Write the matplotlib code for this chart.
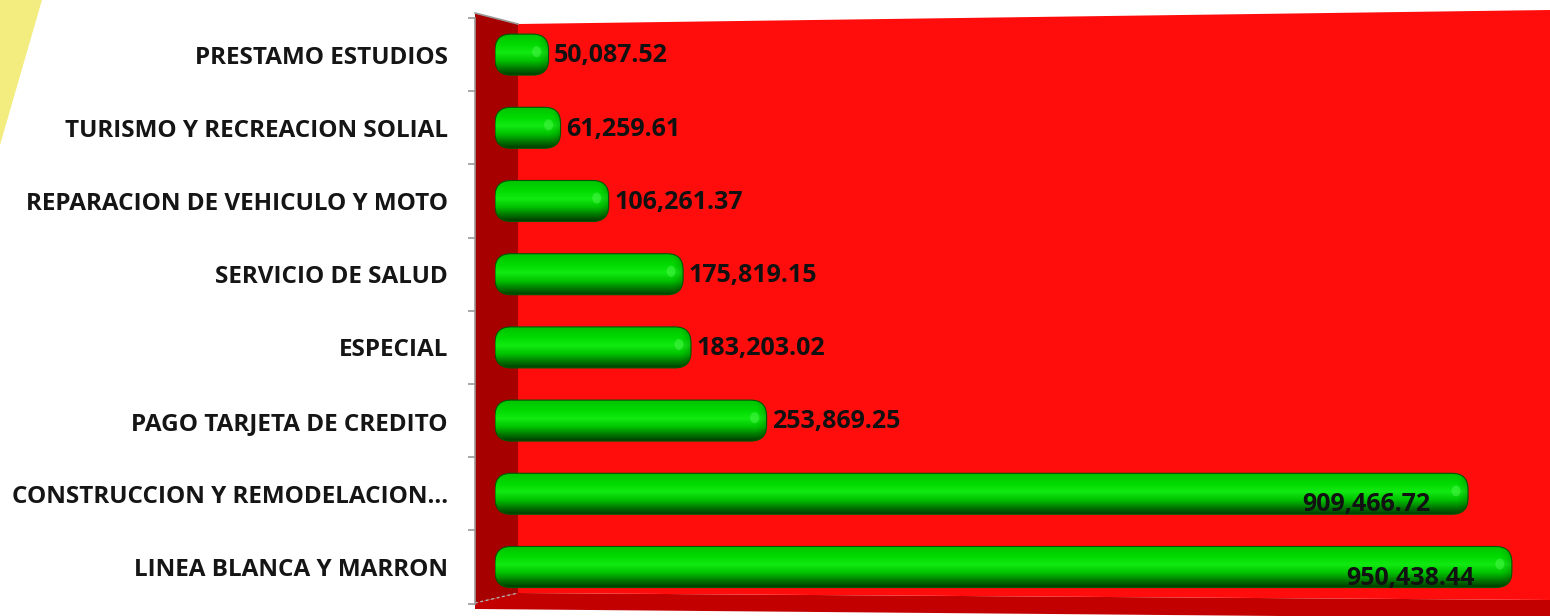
import matplotlib
matplotlib.use("Agg")
import matplotlib.pyplot as plt
import numpy as np
from matplotlib.patches import FancyBboxPatch, Polygon, Ellipse
from matplotlib.colors import LinearSegmentedColormap

# Data (bottom to top)
categories = [
    "LINEA BLANCA Y MARRON",
    "CONSTRUCCION Y REMODELACION\u2026",
    "PAGO TARJETA DE CREDITO",
    "ESPECIAL",
    "SERVICIO DE SALUD",
    "REPARACION DE VEHICULO Y MOTO",
    "TURISMO Y RECREACION SOLIAL",
    "PRESTAMO ESTUDIOS",
]
values = [950438.44, 909466.72, 253869.25, 183203.02, 175819.15, 106261.37, 61259.61, 50087.52]
value_labels = ["950,438.44", "909,466.72", "253,869.25", "183,203.02",
                "175,819.15", "106,261.37", "61,259.61", "50,087.52"]

W, H = 1550, 616
fig = plt.figure(figsize=(W / 100, H / 100), dpi=100)
fig.patch.set_facecolor("white")

# background "3D" walls in pixel space
bg = fig.add_axes([0, 0, 1, 1])
bg.set_xlim(0, W)
bg.set_ylim(H, 0)
bg.axis("off")
bg.add_patch(Polygon([(0, 0), (42, 0), (0, 145)], closed=True, fc="#f3ed80", ec="none"))
bg.add_patch(Polygon([(475, 603), (518, 593), (1550, 600), (1550, 616), (1280, 616), (475, 609)],
                     closed=True, fc="#c20000", ec="none"))
bg.add_patch(Polygon([(518, 24), (1550, 10), (1550, 600), (518, 593)], closed=True, fc="#ff0c0c", ec="none"))
bg.add_patch(Polygon([(475, 13), (518, 24), (518, 593), (475, 603)], closed=True, fc="#a60000", ec="none"))
bg.plot([475, 518], [13, 24], color="#9a9a9a", lw=1.2)
bg.plot([475, 518], [603, 593], color="#b0b0b0", lw=1, ls=(0, (2, 2)))

# main axes for the bars
ax_l, ax_r, ax_t, ax_b = 495, 1550, 18, 603.6
ax = fig.add_axes([ax_l / W, 1 - ax_b / H, (ax_r - ax_l) / W, (ax_b - ax_t) / H])
ax.patch.set_visible(False)
n = len(categories)
y = np.arange(n)
xmax = max(values) * 1.0375

px_x = (ax_r - ax_l) / xmax          # pixels per x unit
px_y = (ax_b - ax_t) / n             # pixels per y unit
bar_h = 0.56
radius = 16 / px_x

cyl = LinearSegmentedColormap.from_list("cyl", [
    (0.0, "#003c00"), (0.15, "#007400"), (0.35, "#00c400"), (0.55, "#12ea12"),
    (0.75, "#00da00"), (1.0, "#00c200")])
grad = np.linspace(0, 1, 256).reshape(-1, 1)

# dark ramp for the rounded right end
ramp = np.zeros((2, 64, 4))
ramp[..., 3] = np.linspace(0, 0.35, 64) ** 1.5

for yi, v in zip(y, values):
    box = FancyBboxPatch((0, yi - bar_h / 2), v, bar_h,
                         boxstyle=f"round,pad=0,rounding_size={radius}",
                         mutation_aspect=px_x / px_y,
                         fc="none", ec="#005800", lw=0.8, zorder=3)
    ax.add_patch(box)
    im = ax.imshow(grad, extent=[0, v, yi - bar_h / 2, yi + bar_h / 2], origin="lower",
                   cmap=cyl, aspect="auto", zorder=2, interpolation="bilinear")
    im.set_clip_path(box)
    end = ax.imshow(ramp, extent=[v - 12 / px_x, v, yi - bar_h / 2, yi + bar_h / 2],
                    aspect="auto", zorder=2.2, interpolation="bilinear")
    end.set_clip_path(box)
    spot = Ellipse((v - 12 / px_x, yi + 0.04), 9 / px_x, 11 / px_y,
                   fc="#6cff6c", ec="none", alpha=0.35, zorder=2.5)
    ax.add_patch(spot)

ax.set_xlim(0, xmax)
ax.set_ylim(-0.5, n - 0.5)

# value labels
for yi, v, lab in zip(y, values, value_labels):
    if v > 0.5 * max(values):
        ax.annotate(lab, (v, yi), xytext=(-27, -8), textcoords="offset points",
                    ha="right", va="center", fontsize=18, fontweight="bold",
                    family="Open Sans", color="#111111", zorder=4)
    else:
        ax.annotate(lab, (v, yi), xytext=(4, -1), textcoords="offset points",
                    ha="left", va="center", fontsize=18, fontweight="bold",
                    family="Open Sans", color="#111111", zorder=4)

# axis styling
for s in ["top", "right", "bottom"]:
    ax.spines[s].set_visible(False)
ax.spines["left"].set_position(("outward", 14.4))
ax.spines["left"].set_color("#9a9a9a")
ax.spines["left"].set_linewidth(1.2)
ax.set_xticks([])
ax.set_yticks(y)
ax.set_yticklabels(categories, fontsize=17.5, fontweight="bold", family="Open Sans", color="#151515")
ax.tick_params(axis="y", which="major", length=0, pad=19.5)
ax.set_yticks(np.arange(-0.5, n, 1.0), minor=True)
ax.tick_params(axis="y", which="minor", length=5, color="#9a9a9a", width=1.2)

fig.savefig("out.png", dpi=100)
